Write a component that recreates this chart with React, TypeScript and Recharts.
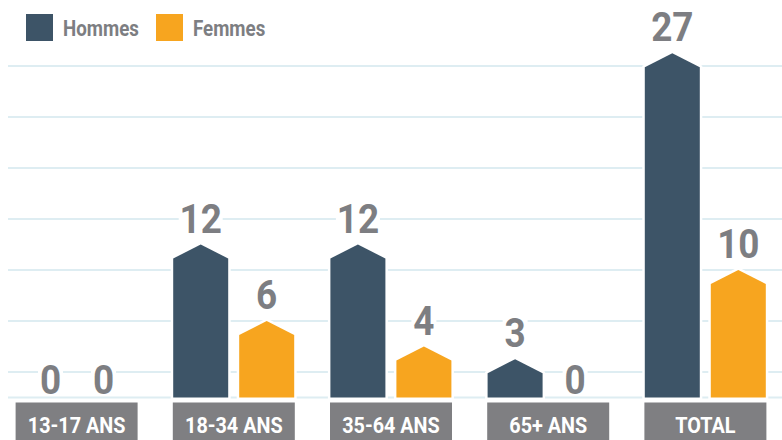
import React from 'react';
import {
  BarChart,
  Bar,
  XAxis,
  YAxis,
  CartesianGrid,
  Legend,
  LabelList
} from 'recharts';

const categories = ['13-17 ANS', '18-34 ANS', '35-64 ANS', '65+ ANS', 'TOTAL'];
const hommes = [0, 12, 12, 3, 27];
const femmes = [0, 6, 4, 0, 10];
const gridTicks = [2, 6, 10, 14, 18, 22, 26];

const DARK = '#3d5467';
const ORANGE = '#f7a51f';
const GRAY = '#7d7e82';
const FONT = 'Roboto, "Open Sans", sans-serif';

const data = categories.map((cat, i) => ({ cat, hommes: hommes[i], femmes: femmes[i] }));

const PentagonBar = (props: any) => {
  const { x, y, width, height, fill } = props;
  if (!height || height <= 0) return null;
  const tip = Math.min(14, height);
  const pts = `${x},${y + height} ${x},${y + tip} ${x + width / 2},${y} ${x + width},${y + tip} ${x + width},${y + height}`;
  return (
    <g>
      <polygon points={pts} fill="#fff" stroke="#fff" strokeWidth={5} />
      <polygon points={pts} fill={fill} />
    </g>
  );
};

// value labels sit on a white patch that cuts the gridlines
const valueLabel = (zeroShift: number) => (p: any) => {
  const v = Number(p.value);
  const cx = p.x + p.width / 2 + (v === 0 ? zeroShift : 0);
  const base = v === 0 ? p.y - 3.5 : p.y - 12;
  const w = String(v).length * 19 + 6;
  return (
    <g>
      <rect x={cx - w / 2} y={base - 31} width={w} height={32} fill="#fff" />
      <text
        x={0}
        y={0}
        transform={`translate(${cx},${base}) scale(0.9,1)`}
        textAnchor="middle"
        fontFamily={FONT}
        fontWeight={700}
        fontSize={41}
        fill={GRAY}
      >
        {v}
      </text>
    </g>
  );
};

const CategoryTick = (p: any) => {
  const { x, y, payload } = p;
  return (
    <g>
      <rect x={x - 61} y={y + 5} width={122} height={40} fill="#7f7f82" />
      <text
        x={0}
        y={0}
        transform={`translate(${x},${y + 35}) scale(0.9,1)`}
        textAnchor="middle"
        fontFamily={FONT}
        fontWeight={700}
        fontSize={22}
        fill="#fff"
      >
        {payload.value}
      </text>
    </g>
  );
};

const LegendBox = () => (
  <div style={{ position: 'relative', width: 300, height: 30, fontFamily: FONT }}>
    {[
      { label: 'Hommes', color: DARK, left: 0 },
      { label: 'Femmes', color: ORANGE, left: 130 }
    ].map((item) => (
      <div key={item.label} style={{ position: 'absolute', left: item.left, top: 0, display: 'flex' }}>
        <div style={{ width: 27, height: 27, background: item.color }} />
        <span
          style={{
            marginLeft: 10,
            fontSize: 22,
            lineHeight: '30px',
            fontWeight: 700,
            color: GRAY,
            whiteSpace: 'nowrap',
            display: 'inline-block',
            transform: 'scaleX(0.85)',
            transformOrigin: 'left'
          }}
        >
          {item.label}
        </span>
      </div>
    ))}
  </div>
);

const App: React.FC = () => {
  return (
    <div style={{ position: 'absolute', left: -2, top: 0, width: 786, height: 440, background: '#fff', overflow: 'hidden' }}>
      <BarChart
        width={786}
        height={440}
        data={data}
        margin={{ top: 15, right: 0, left: 0, bottom: 0 }}
        barSize={55}
        barGap={11}
      >
        <CartesianGrid
          vertical={false}
          horizontal={(p: any) =>
            p.y1 < 40 ? (
              <g key={p.key ?? `g-${p.index}`} />
            ) : (
              <line
                key={p.key ?? `g-${p.index}`}
                x1={10}
                x2={p.x2}
                y1={p.y1}
                y2={p.y2}
                stroke="#deedf2"
                strokeWidth={2}
              />
            )
          }
        />
        <XAxis
          dataKey="cat"
          height={42.5}
          axisLine={false}
          tickLine={false}
          tickSize={0}
          tickMargin={0}
          interval={0}
          tick={<CategoryTick />}
        />
        <YAxis hide domain={[0, 30]} ticks={gridTicks} />
        <Legend
          layout="horizontal"
          verticalAlign="middle"
          align="center"
          wrapperStyle={{ top: 14, left: 28, width: 300, height: 30 }}
          content={() => <LegendBox />}
        />
        <Bar dataKey="hommes" name="Hommes" fill={DARK} shape={<PentagonBar />} isAnimationActive={false}>
          <LabelList dataKey="hommes" content={valueLabel(7)} />
        </Bar>
        <Bar dataKey="femmes" name="Femmes" fill={ORANGE} shape={<PentagonBar />} isAnimationActive={false}>
          <LabelList dataKey="femmes" content={valueLabel(-6)} />
        </Bar>
      </BarChart>
    </div>
  );
};

export default App;
